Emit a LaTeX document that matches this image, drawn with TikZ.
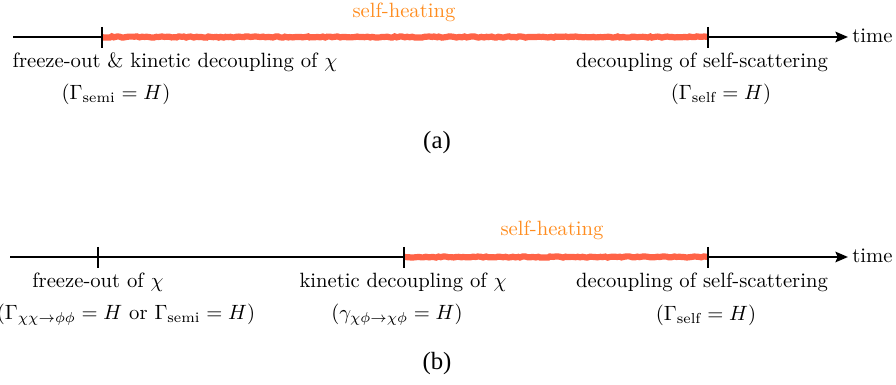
\documentclass[tikz,border=0pt]{standalone}
\usepackage{fontspec}
\newfontfamily\capfont{Liberation Serif}
\usetikzlibrary{arrows.meta,decorations.pathmorphing}
\definecolor{heatred}{RGB}{255,99,71}
\definecolor{heatorange}{RGB}{255,140,30}
\begin{document}
\begin{tikzpicture}[x=0.484pt,y=-0.484pt,
  axisline/.style={line width=1.4pt,-{Stealth[length=6pt,width=5pt,inset=1pt]}},
  tickline/.style={line width=0.9pt},
  heat/.style={heatred,line width=3pt,decorate,
    decoration={random steps,segment length=1.2pt,amplitude=0.3pt}},
  lbl/.style={inner sep=0pt},
  heatlbl/.style={text=heatorange,inner sep=0pt},
  caplbl/.style={font=\capfont\large,inner sep=0pt}]
\useasboundingbox (0,0) rectangle (896,385);

% ---------- (a) ----------
\coordinate (a0) at (13,37);
\coordinate (a1) at (102,37);
\coordinate (a2) at (708,37);
\coordinate (aend) at (848,37);
\draw[axisline] (a0) -- (aend);
\draw[heat] (a1) -- (a2);
\draw[tickline] (a1) +(0,-10) -- +(0,11);
\draw[tickline] (a2) +(0,-10) -- +(0,11);
\node[heatlbl] (sha) at (404,12) {self-heating};
\node[lbl] (fa) at (175,62) {freeze-out \& kinetic decoupling of $\chi$};
\node[lbl] (fa2) at (116,94) {$(\Gamma_{\mathrm{semi}}=H)$};
\node[lbl] (da) at (702,62) {decoupling of self-scattering};
\node[lbl] (da2) at (721,94) {$(\Gamma_{\mathrm{self}}=H)$};
\node[lbl,anchor=base west] (timea) at (852,43) {time};
\node[caplbl] (capa) at (437,143) {(a)};

% ---------- (b) ----------
\coordinate (b0) at (10,257);
\coordinate (b1) at (98,257);
\coordinate (b2) at (404,257);
\coordinate (b3) at (708,257);
\coordinate (bend) at (848,257);
\draw[axisline] (b0) -- (bend);
\draw[heat] (b2) -- (b3);
\draw[tickline] (b1) +(0,-10) -- +(0,11);
\draw[tickline] (b2) +(0,-10) -- +(0,11);
\draw[tickline] (b3) +(0,-10) -- +(0,11);
\node[heatlbl] (shb) at (552,230) {self-heating};
\node[lbl] (fb) at (98,282) {freeze-out of $\chi$};
\node[lbl] (fb2) at (126,315) {$(\Gamma_{\chi\chi\to\phi\phi}=H$ or $\Gamma_{\mathrm{semi}}=H)$};
\node[lbl] (kb) at (403,282) {kinetic decoupling of $\chi$};
\node[lbl] (kb2) at (397,315) {$(\gamma_{\chi\phi\to\chi\phi}=H)$};
\node[lbl] (db) at (702,282) {decoupling of self-scattering};
\node[lbl] (db2) at (706,315) {$(\Gamma_{\mathrm{self}}=H)$};
\node[lbl,anchor=base west] (timeb) at (852,263) {time};
\node[caplbl] (capb) at (437,364) {(b)};
\end{tikzpicture}
\end{document}
